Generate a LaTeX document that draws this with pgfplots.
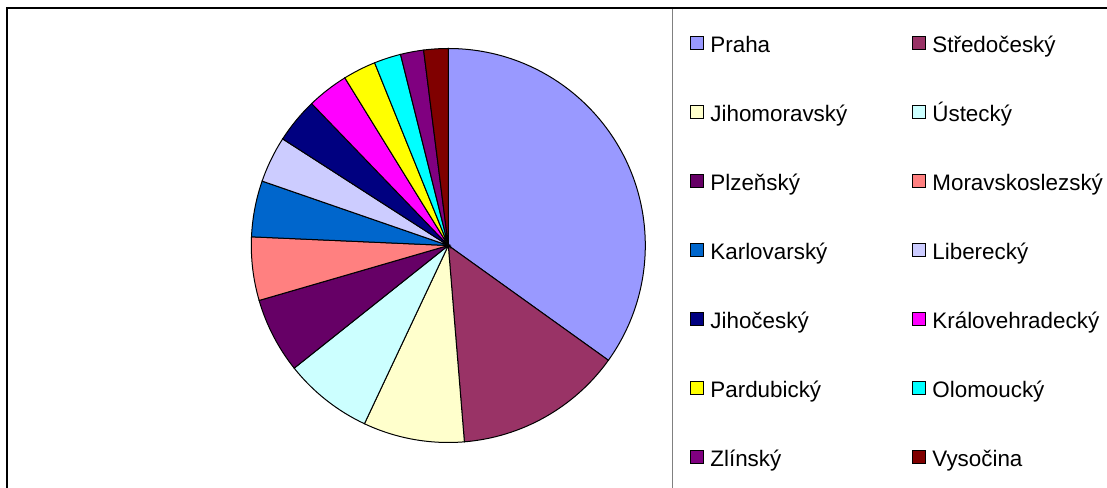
\documentclass[border=0pt]{standalone}
\usepackage{fontspec}
\setmainfont{Liberation Sans}
\usepackage{pgfplots}
\usepackage{pgfplotstable}
\pgfplotsset{compat=1.18}

\definecolor{slice0}{HTML}{9999FF}
\definecolor{slice1}{HTML}{993366}
\definecolor{slice2}{HTML}{FFFFCC}
\definecolor{slice3}{HTML}{CCFFFF}
\definecolor{slice4}{HTML}{660066}
\definecolor{slice5}{HTML}{FF8080}
\definecolor{slice6}{HTML}{0066CC}
\definecolor{slice7}{HTML}{CCCCFF}
\definecolor{slice8}{HTML}{000080}
\definecolor{slice9}{HTML}{FF00FF}
\definecolor{slice10}{HTML}{FFFF00}
\definecolor{slice11}{HTML}{00FFFF}
\definecolor{slice12}{HTML}{800080}
\definecolor{slice13}{HTML}{800000}

\pgfplotstableread{
region value
Praha 34.9
Stredocesky 13.8
Jihomoravsky 8.3
Ustecky 7.3
Plzensky 6.2
Moravskoslezsky 5.2
Karlovarsky 4.6
Liberecky 3.8
Jihocesky 3.7
Kralovehradecky 3.4
Pardubicky 2.7
Olomoucky 2.2
Zlinsky 1.9
Vysocina 2.0
}\piedata

\gdef\cum{0}
\pgfplotsforeachungrouped \k in {0,...,13}{%
  \pgfplotstablegetelem{\k}{value}\of\piedata
  \pgfmathsetmacro\sa{90-3.6*\cum}%
  \pgfmathsetmacro\newcum{\cum+\pgfplotsretval}%
  \pgfmathsetmacro\ea{90-3.6*\newcum}%
  \expandafter\xdef\csname pieS\k\endcsname{\sa}%
  \expandafter\xdef\csname pieE\k\endcsname{\ea}%
  \xdef\cum{\newcum}%
}

\newcommand\lgs{\rule[-4pt]{0pt}{20pt}}

\begin{document}
\begin{tikzpicture}
\begin{axis}[
  at={(0,0)}, anchor=origin,
  scale only axis,
  width=830.25pt, height=366pt,
  xmin=0, xmax=1107, ymin=0, ymax=488,
  hide axis,
  legend columns=2,
  legend cell align=left,
  legend image code/.code={\draw[#1] (0pt,-4.6pt) rectangle (9.4pt,4.8pt);},
  legend style={
    at={(0.6233,0.9412)}, anchor=north west,
    draw=none, fill=none, inner sep=0pt, outer sep=0pt,
    font=\fontsize{16.8}{20}\selectfont,
    row sep=30.25pt,
    /tikz/every odd column/.append style={column sep=3pt},
    /tikz/every even column/.append style={column sep=46.5pt},
  },
]
\pgfplotsinvokeforeach{0,...,13}{%
  \draw[fill=slice#1, draw=black, line width=0.75pt]
    (axis cs:448.3,242.5) -- ++(\csname pieS#1\endcsname:147.75pt)
    arc[start angle=\csname pieS#1\endcsname, end angle=\csname pieE#1\endcsname, radius=147.75pt] -- cycle;
}
\draw[black, line width=1.5pt] (axis cs:7,0) -- (axis cs:7,479.5) -- (axis cs:1107,479.5);
\draw[gray, line width=0.9pt] (axis cs:672.5,0) -- (axis cs:672.5,479);

\addlegendimage{fill=slice0, draw=black, line width=0.9pt}\addlegendentry{\lgs Praha}
\addlegendimage{fill=slice1, draw=black, line width=0.9pt}\addlegendentry{\lgs Středočeský}
\addlegendimage{fill=slice2, draw=black, line width=0.9pt}\addlegendentry{\lgs Jihomoravský}
\addlegendimage{fill=slice3, draw=black, line width=0.9pt}\addlegendentry{\lgs Ústecký}
\addlegendimage{fill=slice4, draw=black, line width=0.9pt}\addlegendentry{\lgs Plzeňský}
\addlegendimage{fill=slice5, draw=black, line width=0.9pt}\addlegendentry{\lgs Moravskoslezský}
\addlegendimage{fill=slice6, draw=black, line width=0.9pt}\addlegendentry{\lgs Karlovarský}
\addlegendimage{fill=slice7, draw=black, line width=0.9pt}\addlegendentry{\lgs Liberecký}
\addlegendimage{fill=slice8, draw=black, line width=0.9pt}\addlegendentry{\lgs Jihočeský}
\addlegendimage{fill=slice9, draw=black, line width=0.9pt}\addlegendentry{\lgs Královehradecký}
\addlegendimage{fill=slice10, draw=black, line width=0.9pt}\addlegendentry{\lgs Pardubický}
\addlegendimage{fill=slice11, draw=black, line width=0.9pt}\addlegendentry{\lgs Olomoucký}
\addlegendimage{fill=slice12, draw=black, line width=0.9pt}\addlegendentry{\lgs Zlínský}
\addlegendimage{fill=slice13, draw=black, line width=0.9pt}\addlegendentry{\lgs Vysočina}
\end{axis}
\pgfresetboundingbox
\useasboundingbox (0,0) rectangle (830.25pt,366pt);
\end{tikzpicture}
\end{document}
